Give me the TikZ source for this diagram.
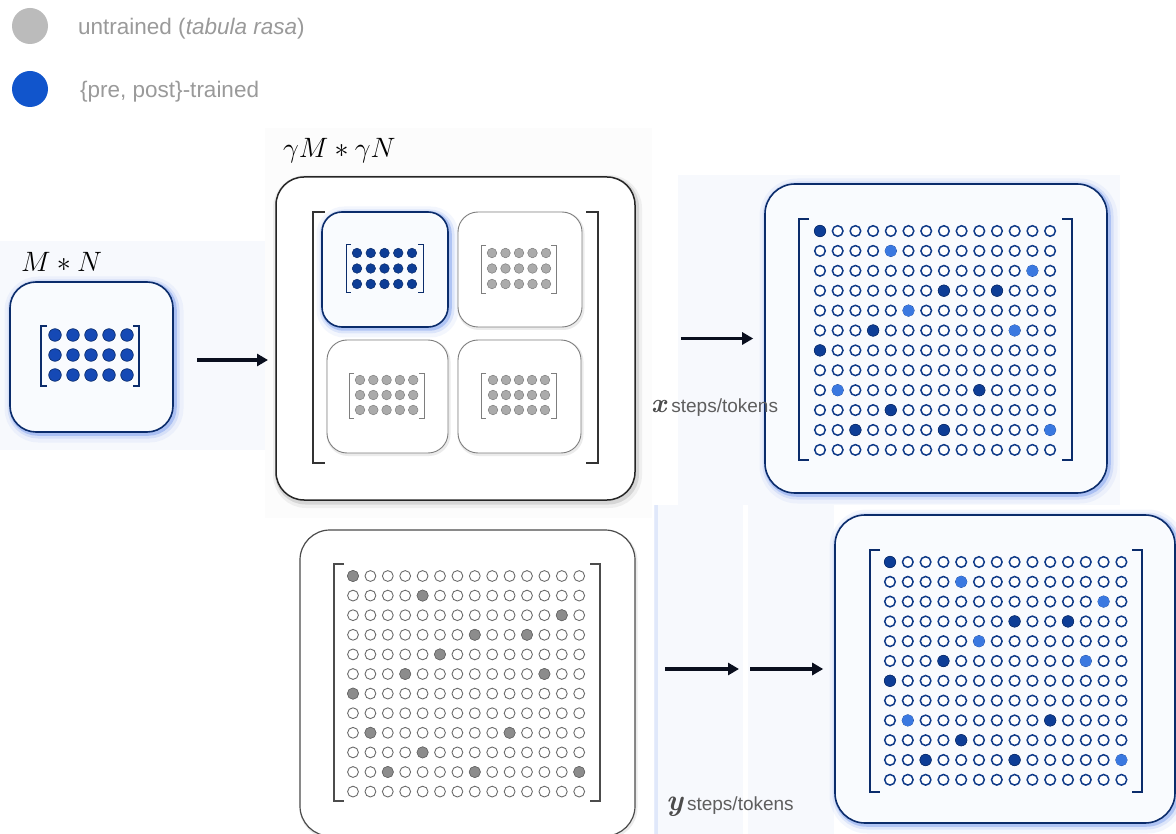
\RequirePackage{fix-cm}
\documentclass[tikz,border=0pt]{standalone}
\usepackage{fontspec}
\newfontfamily\arialfont{Liberation Sans}
\usetikzlibrary{arrows.meta}

\definecolor{navy}{HTML}{0B2C6B}
\definecolor{dotnavy}{HTML}{0F3A88}
\definecolor{darkdot}{HTML}{0D3D96}
\definecolor{lightdot}{HTML}{3A78E0}
\definecolor{royal}{HTML}{1549B5}
\definecolor{legblue}{HTML}{1155CC}
\definecolor{leggray}{HTML}{BBBBBB}
\definecolor{legtext}{HTML}{9A9A9A}
\definecolor{glowblue}{HTML}{3D6FE8}
\definecolor{boxfill}{HTML}{F9FBFE}
\definecolor{panelblue}{HTML}{F7F9FD}
\definecolor{panelgray}{HTML}{FCFCFC}
\definecolor{graydot}{HTML}{ABABAB}
\definecolor{grayline}{HTML}{7E7E7E}
\definecolor{graymark}{HTML}{8C8C8C}
\definecolor{labelgray}{HTML}{5E5E5E}
\definecolor{arrowblack}{HTML}{0A0F1E}

% left/right square brackets: [options] left x, right x, top y, bottom y, serif length
\newcommand{\bracketpair}[6][]{%
  \draw[#1] (#2+#6,#4) -- (#2,#4) -- (#2,#5) -- (#2+#6,#5);
  \draw[#1] (#3-#6,#4) -- (#3,#4) -- (#3,#5) -- (#3-#6,#5);}

% rectangular block of dots: last row index, last column index, x0, y0, dx, dy, radius, style
\newcommand{\dotblock}[8]{%
  \foreach \r in {0,...,#1} \foreach \c in {0,...,#2}
    \path[#8] (#3+\c*#5, #4+\r*#6) circle[radius=#7pt];}

% selected cells of a dot block: cell list macro, x0, y0, dx, dy, radius, style
\newcommand{\dotmarks}[7]{%
  \foreach \r/\c in #1
    \path[#7] (#2+\c*#4, #3+\r*#5) circle[radius=#6pt];}

\def\darkcells{0/0,3/7,3/10,5/3,6/0,8/9,9/4,10/2,10/7}
\def\lightcells{1/4,2/12,4/5,5/11,8/1,10/13}
\def\allcells{0/0,3/7,3/10,5/3,6/0,8/9,9/4,10/2,10/7,1/4,2/12,4/5,5/11,8/1,10/13}

\begin{document}
\begin{tikzpicture}[x=1pt,y=-1pt,
  glow/.style={
    preaction={draw=glowblue, draw opacity=0.06, line width=16pt, transform canvas={shift={(2.5pt,-2.5pt)}}},
    preaction={draw=glowblue, draw opacity=0.12, line width=9pt, transform canvas={shift={(2pt,-2pt)}}},
    preaction={draw=glowblue, draw opacity=0.28, line width=4.5pt, transform canvas={shift={(1.5pt,-1.5pt)}}}},
  softshadow/.style={
    preaction={draw=black, draw opacity=0.05, line width=10pt, transform canvas={shift={(2pt,-3pt)}}},
    preaction={draw=black, draw opacity=0.10, line width=5pt, transform canvas={shift={(1.5pt,-2pt)}}}},
  bluebox/.style={draw=navy, line width=1.6pt, fill=boxfill, rounded corners=#1, glow},
  graybox/.style={draw=grayline, line width=0.9pt, fill=white, rounded corners=#1,
    preaction={draw=black, draw opacity=0.08, line width=3pt, transform canvas={shift={(1pt,-1.5pt)}}}},
  legdot/.style={circle, minimum size=36pt, inner sep=0pt, fill=#1},
  legtxt/.style={anchor=west, inner sep=0pt, text=legtext, font=\arialfont\fontsize{22.5}{27}\selectfont},
  mathlabel/.style={anchor=base west, inner sep=0pt, font=\fontsize{28}{32}\selectfont},
  arr/.style={draw=arrowblack, line width=3.6pt, -{Triangle[length=11pt,width=12pt]}},
  emptyblue/.style={draw=dotnavy, line width=1.5pt, fill=white},
  emptygray/.style={draw=grayline!85!black, line width=0.9pt, fill=white},
]
\useasboundingbox (0,0) rectangle (1176,834);
\fill[white] (0,0) rectangle (1176,834);

% faint backdrop panels
\fill[panelblue] (0,241) rectangle (272,450);
\fill[panelgray] (265,128) rectangle (652,518);
\fill[panelblue] (678,175) rectangle (1120,505);
\fill[panelblue] (655,505) rectangle (743,834);
\fill[panelblue] (748,505) rectangle (834,834);
\fill[glowblue, opacity=0.12] (654,505) rectangle (658,834);

% legend
\node[legdot=leggray] (ugdot) at (30,26) {};
\node[legtxt] (ugtext) at (78,28.5) {untrained (\textit{tabula rasa})};
\node[legdot=legblue] (trdot) at (30,89) {};
\node[legtxt] (trtext) at (80,91.5) {\{pre, post\}-trained};

% base model M*N
\node[mathlabel] (mnlab) at (21,272) {$M*N$};
\node[bluebox=26pt, minimum width=163pt, minimum height=150pt] (lbox) at (91.5,357) {};
\bracketpair[draw=navy, line width=1.1pt]{41}{139}{326}{386}{6}
\dotblock{2}{4}{55}{335}{18}{20}{6.3}{fill=royal, draw=navy, line width=0.6pt}

% grown model gamma M * gamma N
\node[mathlabel] (gmlab) at (283,158) {$\gamma M*\gamma N$};
\node[draw=black!85, line width=1.5pt, fill=white, rounded corners=28pt,
      minimum width=359pt, minimum height=323pt, softshadow] (mid) at (455.5,338.5) {};
\bracketpair[draw=black!80, line width=1.3pt]{313}{598}{212}{463}{12}

\node[bluebox=20pt, minimum width=126pt, minimum height=115pt] (subA) at (385,269.5) {};
\node[graybox=20pt, minimum width=124pt, minimum height=115pt] (subB) at (520,269.5) {};
\node[graybox=20pt, minimum width=121pt, minimum height=113pt] (subC) at (387.5,396.5) {};
\node[graybox=20pt, minimum width=123pt, minimum height=113pt] (subD) at (519.5,396.5) {};

\bracketpair[draw=navy, line width=1pt]{346}{423}{245}{293}{5}
\dotblock{2}{4}{357}{253}{13.75}{15.5}{4.8}{fill=darkdot, draw=navy, line width=0.5pt}
\bracketpair[draw=grayline, line width=0.9pt]{481}{556}{245}{293}{5}
\dotblock{2}{4}{492}{253}{13.5}{15.5}{4.8}{fill=graydot, draw=grayline, line width=0.5pt}
\bracketpair[draw=grayline, line width=0.9pt]{349}{424}{373}{418}{5}
\dotblock{2}{4}{360}{380}{13.3}{15}{4.8}{fill=graydot, draw=grayline, line width=0.5pt}
\bracketpair[draw=grayline, line width=0.9pt]{481}{556}{373}{418}{5}
\dotblock{2}{4}{493}{380}{13}{15}{4.8}{fill=graydot, draw=grayline, line width=0.5pt}

% trained after x steps
\node[bluebox=30pt, minimum width=342pt, minimum height=309pt] (trbox) at (936,338.5) {};
\bracketpair[draw=navy, line width=1.4pt]{799}{1072}{219}{460}{10}
\dotblock{11}{13}{820}{231}{17.7}{19.9}{5.3}{emptyblue}
\dotmarks{\darkcells}{820}{231}{17.7}{19.9}{5.7}{fill=darkdot, draw=navy, line width=0.6pt}
\dotmarks{\lightcells}{820}{231}{17.7}{19.9}{5.7}{fill=lightdot}

% untrained large model
\node[graybox=30pt, draw=black!70, line width=1.2pt, minimum width=335pt, minimum height=306pt] (blbox) at (467.5,683) {};
\bracketpair[draw=black!70, line width=1.1pt]{334}{600}{564}{801}{10}
\dotblock{11}{13}{353}{576}{17.4}{19.6}{5.4}{emptygray}
\dotmarks{\allcells}{353}{576}{17.4}{19.6}{5.6}{fill=graymark, draw=black!60, line width=0.6pt}

% trained after y steps
\node[bluebox=30pt, minimum width=340pt, minimum height=308pt] (brbox) at (1005,669) {};
\bracketpair[draw=navy, line width=1.4pt]{870}{1142}{550}{792}{10}
\dotblock{11}{13}{890}{562}{17.8}{19.8}{5.3}{emptyblue}
\dotmarks{\darkcells}{890}{562}{17.8}{19.8}{5.7}{fill=darkdot, draw=navy, line width=0.6pt}
\dotmarks{\lightcells}{890}{562}{17.8}{19.8}{5.7}{fill=lightdot}

% connectors
\coordinate (a1s) at (197,360);
\coordinate (a1e) at (268,360);
\draw[arr] (a1s) -- (a1e);
\draw[arr, shorten <=45pt, shorten >=11pt] (mid.east) -- (trbox.west);
\coordinate (b1s) at (665,669);
\coordinate (b1e) at (739,669);
\coordinate (b2s) at (750,669);
\draw[arr] (b1s) -- (b1e);
\draw[arr, shorten >=11pt] (b2s) -- (brbox.west);

% step labels
\node[anchor=base west, inner sep=0pt] (xlab) at (651,413)
  {{\fontsize{27}{27}\selectfont\bfseries\itshape\color{black!70}x}\hspace{5pt}{\arialfont\fontsize{19}{22}\selectfont\color{labelgray}steps/tokens}};
\node[anchor=base west, inner sep=0pt] (ylab) at (666,810)
  {{\fontsize{30}{30}\selectfont\bfseries\itshape\color{black!70}y}\hspace{4pt}{\arialfont\fontsize{19}{22}\selectfont\color{labelgray}steps/tokens}};
\end{tikzpicture}
\end{document}
